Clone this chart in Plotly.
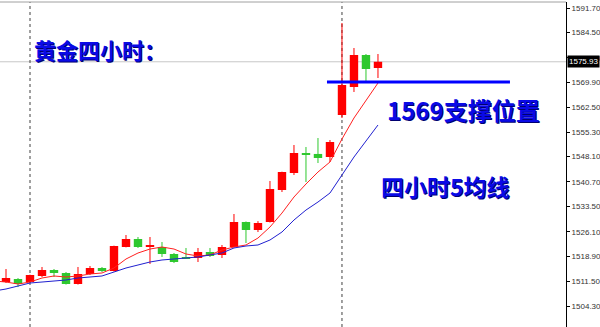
import plotly.graph_objects as go

# ---- data ----
idx = list(range(1, 33))
opens = [1511.34, 1512.22, 1511.34, 1513.11, 1514.87, 1513.99, 1510.75, 1513.69, 1515.45, 1514.57,
         1521.61, 1523.95, 1521.80, 1521.61, 1519.56, 1518.45, 1518.38, 1520.14, 1519.27, 1521.61,
         1528.94, 1526.60, 1528.94, 1538.33, 1543.31, 1549.18, 1548.90, 1548.00, 1560.32, 1568.53,
         1577.92, 1574.10]
highs = [1515.16, 1512.50, 1513.50, 1515.75, 1515.16, 1514.28, 1515.75, 1516.04, 1515.75, 1522.00,
         1525.13, 1524.54, 1524.54, 1523.07, 1519.85, 1521.32, 1521.32, 1521.32, 1522.20, 1531.29,
         1529.10, 1529.20, 1540.97, 1543.70, 1551.52, 1550.94, 1553.57, 1552.99, 1587.30, 1579.97,
         1578.21, 1578.21]
lows = [1511.05, 1509.87, 1511.05, 1512.81, 1512.81, 1510.60, 1510.60, 1513.40, 1514.28, 1514.40,
        1521.50, 1521.32, 1516.63, 1518.68, 1516.90, 1518.09, 1517.21, 1518.68, 1518.38, 1521.50,
        1522.78, 1526.00, 1528.80, 1537.74, 1542.72, 1540.67, 1546.24, 1546.54, 1559.44, 1567.07,
        1570.00, 1571.17]
closes = [1512.52, 1510.75, 1513.40, 1514.87, 1513.99, 1510.75, 1513.69, 1515.45, 1514.57, 1521.90,
          1523.95, 1521.61, 1521.95, 1519.56, 1517.21, 1518.38, 1520.14, 1518.97, 1521.61, 1528.94,
          1526.60, 1528.65, 1538.62, 1543.60, 1549.18, 1548.59, 1547.71, 1552.40, 1569.12, 1577.92,
          1573.81, 1575.93]

ma_idx = list(range(0, 33))
ma_fast = [1511.64, 1511.34, 1510.75, 1511.34, 1512.52, 1513.11, 1512.81, 1513.11, 1513.69, 1513.99,
           1515.45, 1518.09, 1519.85, 1521.02, 1521.61, 1521.02, 1519.56, 1518.97, 1519.27, 1520.73,
           1521.61, 1522.20, 1524.24, 1527.47, 1531.57, 1536.27, 1540.08, 1543.60, 1546.54, 1553.28,
           1559.44, 1564.42, 1569.70]
ma_slow = [1508.70, 1509.29, 1510.17, 1511.05, 1511.34, 1511.64, 1511.93, 1512.52, 1512.81, 1513.11,
           1514.28, 1515.45, 1516.33, 1517.21, 1517.80, 1518.09, 1518.38, 1518.68, 1519.27, 1519.85,
           1521.32, 1521.90, 1522.20, 1523.66, 1526.00, 1529.52, 1532.45, 1534.80, 1537.44, 1542.72,
           1548.00, 1552.69, 1557.38]

tick_vals = [1591.70, 1584.50, 1577.10, 1569.90, 1562.50, 1555.30, 1548.10, 1540.70,
             1533.50, 1526.10, 1518.90, 1511.50, 1504.30]
tick_text = ["%.2f" % v for v in tick_vals]

support_level = 1570.0
support_span = [27.75, 43.0]
separators = [3, 29]
last_price = closes[-1]

title_text = "黄金四小时："
support_text = "1569支撑位置"
ma_text = "四小时5均线"

UP = "#ff0000"
DOWN = "#2fc82f"

# ---- figure ----
fig = go.Figure()

# wicks
for col, is_up in ((UP, True), (DOWN, False)):
    wx, wy = [], []
    for i, o, h, l, c in zip(idx, opens, highs, lows, closes):
        if (c >= o) == is_up:
            wx += [i, i, None]
            wy += [l, h, None]
    fig.add_trace(go.Scatter(x=wx, y=wy, mode="lines", line=dict(color=col, width=1),
                             showlegend=False, hoverinfo="skip"))

# bodies
for col, is_up in ((UP, True), (DOWN, False)):
    bx, bb, bh = [], [], []
    for i, o, c in zip(idx, opens, closes):
        if (c >= o) == is_up:
            bx.append(i)
            bb.append(min(o, c))
            bh.append(max(abs(c - o), 0.3))
    fig.add_trace(go.Bar(x=bx, y=bh, base=bb, width=0.7, marker=dict(color=col, line=dict(width=0)),
                         showlegend=False, hoverinfo="skip"))

fig.add_trace(go.Scatter(x=ma_idx, y=ma_fast, mode="lines",
                         line=dict(color="#ff2020", width=1), showlegend=False, hoverinfo="skip"))
fig.add_trace(go.Scatter(x=ma_idx, y=ma_slow, mode="lines",
                         line=dict(color="#2020d0", width=1), showlegend=False, hoverinfo="skip"))

shapes = []
shapes.append(dict(type="line", xref="paper", yref="y", x0=0, x1=1, y0=last_price, y1=last_price,
                   line=dict(color="#c8c8c8", width=1), layer="below"))
shapes.append(dict(type="line", xref="paper", yref="paper", x0=0, x1=1, y0=1, y1=1,
                   line=dict(color="#a0a0a0", width=1)))
for s in separators:
    shapes.append(dict(type="line", xref="x", yref="paper", x0=s, x1=s, y0=0, y1=1,
                       line=dict(color="#404040", width=1, dash="dot"), layer="below"))
shapes.append(dict(type="line", xref="x", yref="y", x0=support_span[0], x1=support_span[1],
                   y0=support_level, y1=support_level, line=dict(color="#0000ff", width=3)))

annotations = []

def shadow_text(txt, x, y, size, xanchor):
    for col, dx, dy in (("#000070", 1, -1), ("#0a0ae6", 0, 0)):
        annotations.append(dict(text="<b>%s</b>" % txt, xref="paper", yref="paper", x=x, y=y,
                                xanchor=xanchor, yanchor="middle", showarrow=False,
                                xshift=dx, yshift=dy,
                                font=dict(family="Noto Sans CJK SC", size=size, color=col)))

shadow_text(title_text, 32 / 566, (327 - 49) / 325, 22, "left")
shadow_text(support_text, 385 / 566, (327 - 109) / 325, 24, "left")
shadow_text(ma_text, 379 / 566, (327 - 186) / 325, 23, "left")

annotations.append(dict(text="%.2f" % last_price, xref="paper", yref="y", x=1, y=last_price,
                        xanchor="left", yanchor="middle", showarrow=False, xshift=1,
                        bgcolor="#000000", borderpad=1,
                        font=dict(family="Liberation Sans", size=8, color="#ffffff")))

fig.update_layout(
    width=600, height=327,
    margin=dict(l=0, r=34, t=2, b=0),
    paper_bgcolor="#ffffff", plot_bgcolor="#ffffff",
    barmode="overlay",
    shapes=shapes, annotations=annotations,
    xaxis=dict(range=[0.5, 47.67], visible=False, showgrid=False, zeroline=False),
    yaxis=dict(side="right", range=[1498.15, 1593.46], tickvals=tick_vals, ticktext=tick_text,
               showline=True, linecolor="#000000", linewidth=1, ticks="outside", ticklen=3,
               tickcolor="#000000", showgrid=False, zeroline=False,
               tickfont=dict(family="Liberation Sans", size=8, color="#333333")),
)

fig.write_html("out.html")
